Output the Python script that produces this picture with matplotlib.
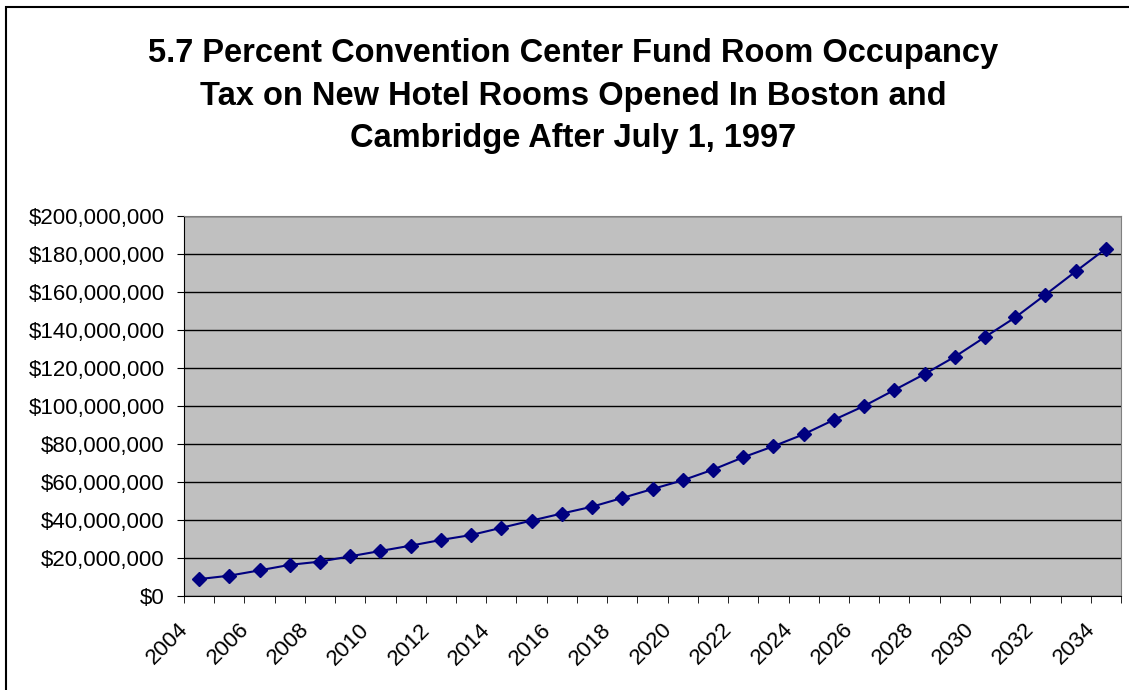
import numpy as np
import matplotlib.pyplot as plt
from matplotlib.patches import Rectangle
from matplotlib.ticker import FuncFormatter, FixedLocator
from matplotlib.transforms import ScaledTranslation

# Anos e receitas estimadas (US$)
years = list(range(2004, 2035))
revenue = [
    8.9e6, 10.7e6, 13.5e6, 16.4e6, 18.1e6, 20.9e6, 23.7e6, 26.5e6,
    29.5e6, 32.1e6, 35.9e6, 39.7e6, 43.4e6, 47.0e6, 51.6e6, 56.3e6,
    60.9e6, 66.5e6, 73.0e6, 78.8e6, 85.1e6, 92.7e6, 100.0e6, 108.4e6,
    116.8e6, 125.9e6, 136.3e6, 146.6e6, 158.6e6, 170.8e6, 182.8e6,
]
year_labels = [str(y) if (y - 2004) % 2 == 0 else '' for y in years]

title = ('5.7 Percent Convention Center Fund Room Occupancy\n'
         'Tax on New Hotel Rooms Opened In Boston and\n'
         'Cambridge After July 1, 1997')

plt.rcParams['font.family'] = ['Liberation Sans', 'DejaVu Sans']

fig = plt.figure(figsize=(11.29, 6.90), dpi=100)
ax = fig.add_axes([184 / 1129, 1 - 596 / 690, (1121 - 184) / 1129, (596 - 216) / 690])

# borda da área do gráfico
fig.patches.append(Rectangle((6 / 1129, -0.1), 1.2, 1.1 - 7 / 690, transform=fig.transFigure,
                             fill=False, edgecolor='black', linewidth=1.5))

x = np.arange(len(years))
ax.plot(x, revenue, color='#000080', linewidth=1.5, marker='D', markersize=7.5,
        markerfacecolor='#000080', markeredgecolor='#000080')

ax.set_facecolor('#C0C0C0')
ax.set_xlim(-0.5, len(years) - 0.5)
ax.set_ylim(0, 200e6)

ax.yaxis.set_major_locator(FixedLocator(np.arange(0, 200e6 + 1, 20e6)))
ax.yaxis.set_major_formatter(FuncFormatter(lambda v, p: '${:,.0f}'.format(v)))
ax.grid(axis='y', color='black', linewidth=1.0)
ax.set_axisbelow(True)

# marcas entre categorias, rótulos nos centros
ax.set_xticks(x)
ax.set_xticklabels(year_labels, rotation=45, ha='right', va='center',
                   rotation_mode='anchor', fontsize=16)
ax.tick_params(axis='x', which='major', length=0, pad=22)
ax.set_xticks(np.arange(-0.5, len(years)), minor=True)
ax.tick_params(axis='x', which='minor', length=5, direction='out', color='black')
shift = ScaledTranslation(-14 / 100, 0, fig.dpi_scale_trans)
for lbl in ax.get_xticklabels():
    lbl.set_transform(lbl.get_transform() + shift)

ax.tick_params(axis='y', length=5, direction='out', labelsize=16, pad=9)

for s in ['top', 'right']:
    ax.spines[s].set_color('#808080')
for s in ['left', 'bottom']:
    ax.spines[s].set_color('black')

fig.text(573 / 1129, 1 - 96 / 690, title, ha='center', va='center', fontsize=23.5,
         fontweight='bold', linespacing=1.46)

plt.savefig('out.png', dpi=100)
